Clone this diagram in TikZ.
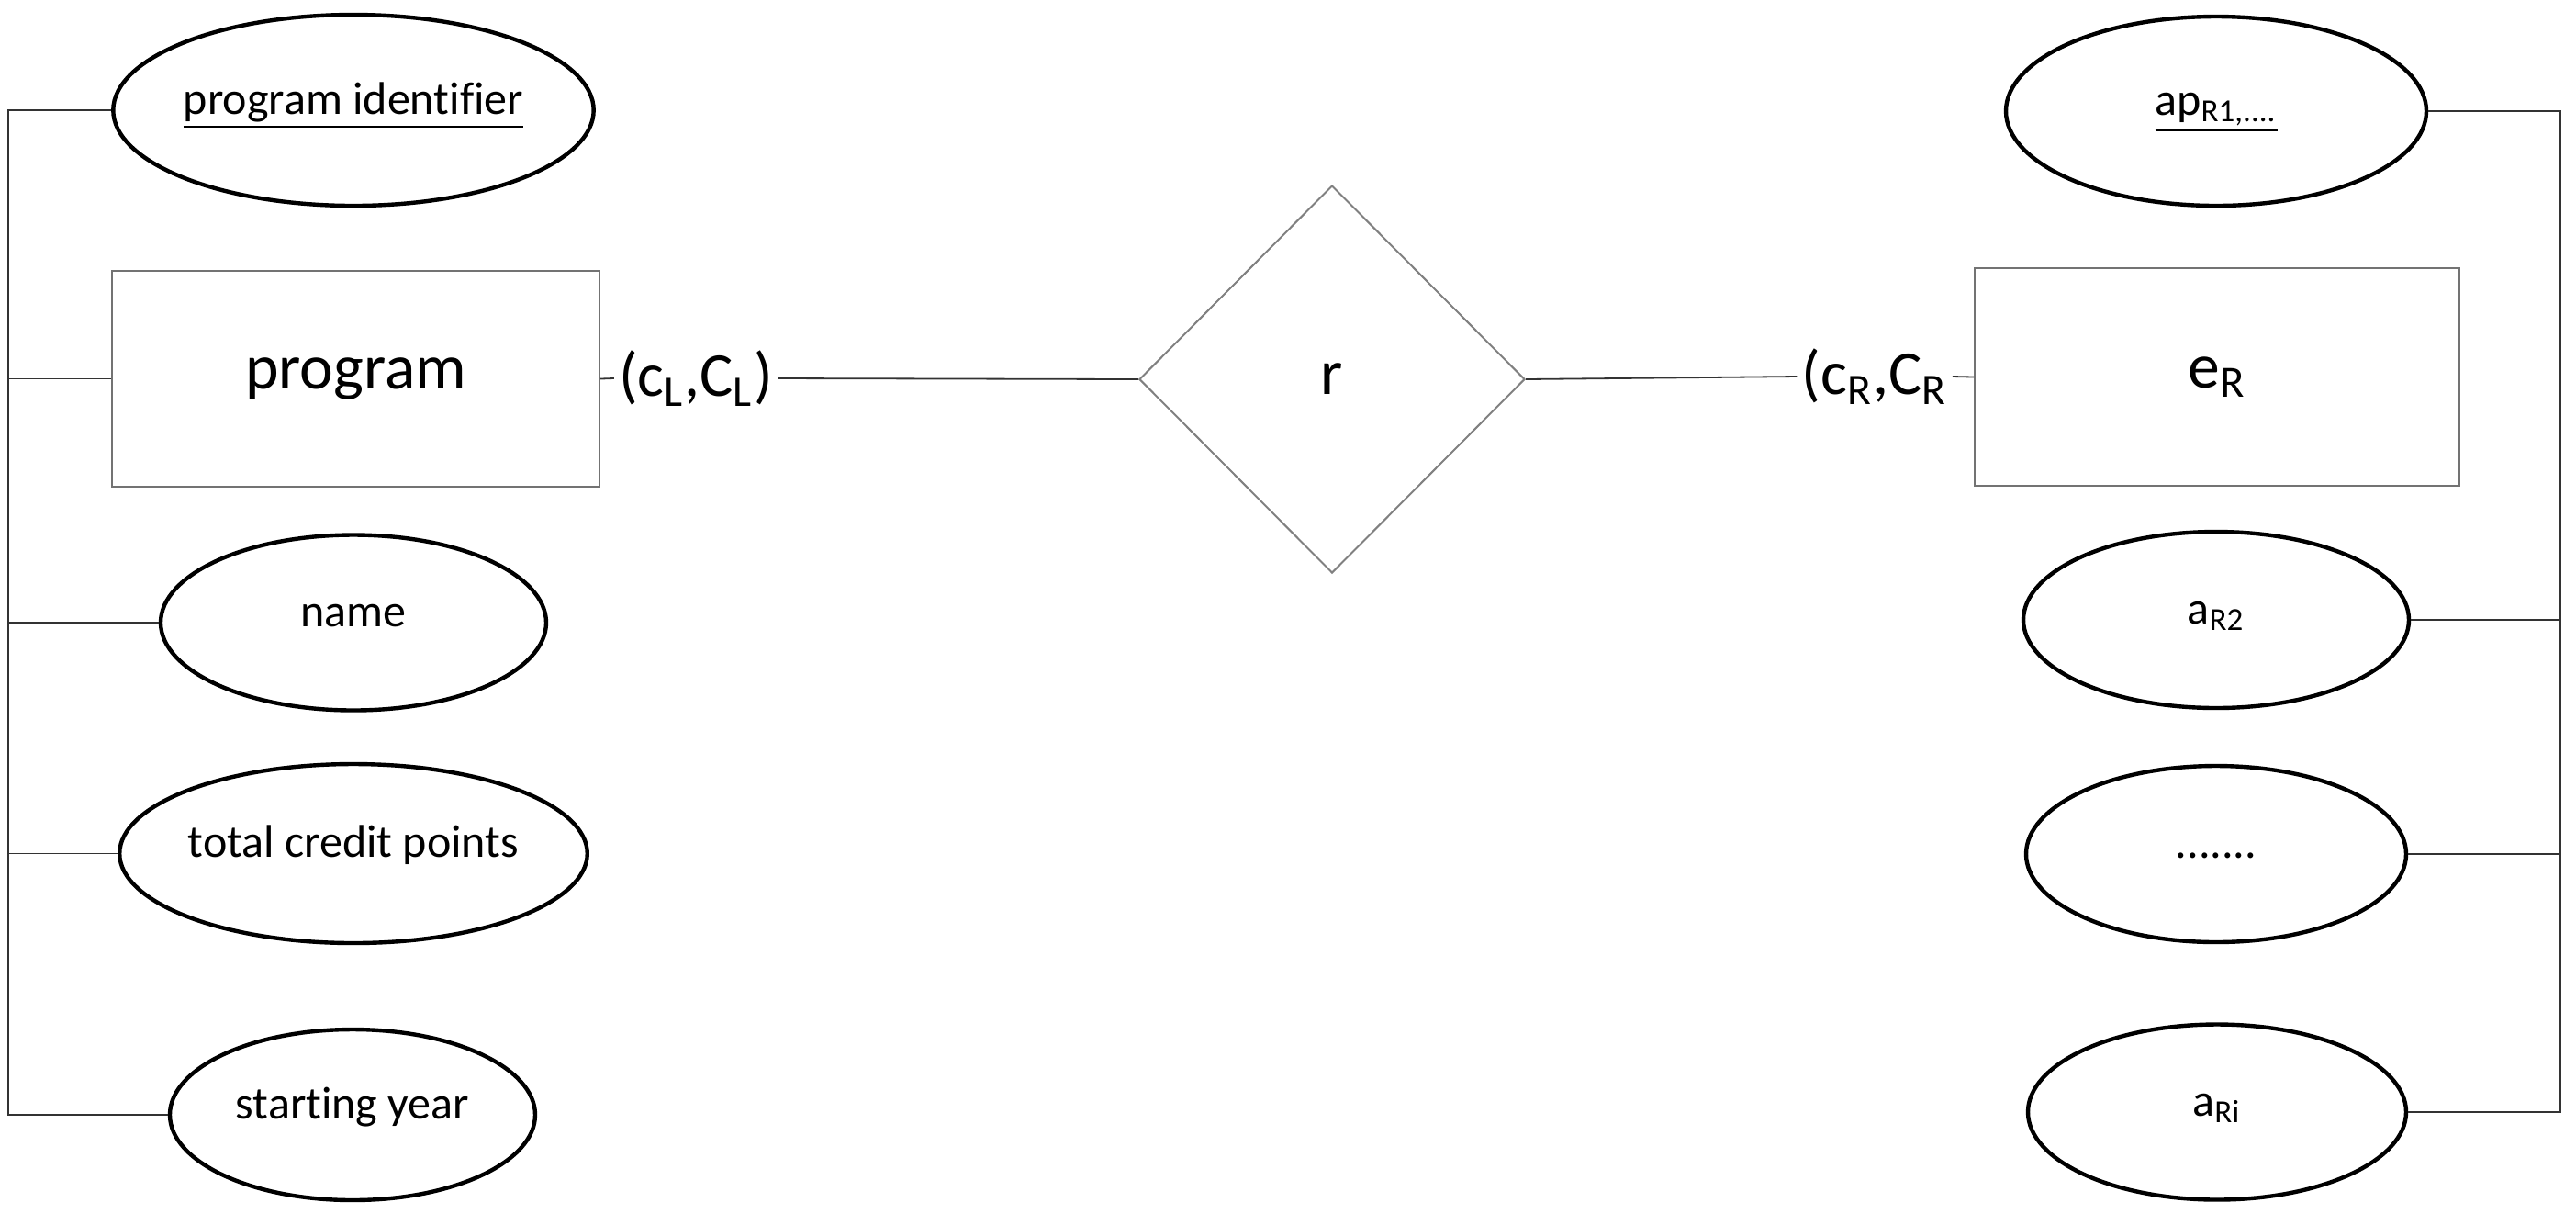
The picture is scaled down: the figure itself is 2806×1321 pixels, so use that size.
\documentclass[tikz,border=0pt]{standalone}
\usepackage{fontspec}
\setmainfont{Carlito}[Ligatures=NoCommon]
\usetikzlibrary{shapes.geometric}
\begin{document}
\begin{tikzpicture}[x=0.25pt,y=-0.25pt,
  attr/.style={ellipse, draw=black, line width=1.1pt, inner sep=0pt, text height=5pt, text depth=3pt, font=\fontsize{12.5}{15}\selectfont},
  ent/.style={rectangle, draw=black!55, line width=0.5pt, inner sep=0pt, font=\fontsize{17.4}{20}\selectfont},
  rel/.style={diamond, draw=black!50, line width=0.5pt, inner sep=0pt, shape aspect=1, font=\fontsize{17.4}{20}\selectfont},
  card/.style={inner sep=1.2pt, font=\fontsize{17}{20}\selectfont},
  conn/.style={draw=black!80, line width=0.45pt}]
\path[use as bounding box] (0,0) rectangle (2806,1321);
% left side
\node[attr, minimum width=117.5pt, minimum height=52pt] (pid) at (385,120) {\underline{program identifier}};
\node[ent, minimum width=132.75pt, minimum height=58.75pt] (prog) at (387.5,412.5) {program};
\node[attr, minimum width=105pt, minimum height=47.75pt] (name) at (385,678) {name};
\node[attr, minimum width=105.25pt, minimum height=48.75pt] (tcp) at (385,929.5) {total credit points};
\node[attr, minimum width=99.5pt, minimum height=46.5pt] (sy) at (384,1214) {starting year};
% relationship
\node[rel, minimum width=105pt, minimum height=105.5pt] (r) at (1451,413) {r};
\node[card] (cl) at (758,412) {(c\textsubscript{L},C\textsubscript{L})};
\node[card] (cr) at (2042,410) {(c\textsubscript{R},C\textsubscript{R}};
% right side
\node[attr, minimum width=114.5pt, minimum height=51.5pt] (apr) at (2414,121) {\underline{ap\textsubscript{R1,....}}};
\node[ent, minimum width=132pt, minimum height=59.25pt] (er) at (2415,410.5) {e\textsubscript{R}};
\node[attr, minimum width=105pt, minimum height=48pt] (ar2) at (2414,675) {a\textsubscript{R2}};
\node[attr, minimum width=103.5pt, minimum height=48pt] (dots) at (2414,930) {.......};
\node[attr, minimum width=103pt, minimum height=47.75pt] (ari) at (2415,1211) {a\textsubscript{Ri}};
% trunk coordinates
\coordinate (lx) at (9,0);
\coordinate (rx) at (2789,0);
% left connectors
\draw[conn] (pid.west) -- (pid.west -| lx) -- (sy.west -| lx) -- (sy.west);
\draw[conn] (prog.west) -- (prog.west -| lx);
\draw[conn] (name.west) -- (name.west -| lx);
\draw[conn] (tcp.west) -- (tcp.west -| lx);
% relationship connectors
\draw[conn] (prog.east) -- (cl.west);
\draw[conn] (cl.east) -- (r.west);
\draw[conn] (r.east) -- (cr.west);
\draw[conn] (cr.east) -- (er.west);
% right connectors
\draw[conn] (apr.east) -- (apr.east -| rx) -- (ari.east -| rx) -- (ari.east);
\draw[conn] (er.east) -- (er.east -| rx);
\draw[conn] (ar2.east) -- (ar2.east -| rx);
\draw[conn] (dots.east) -- (dots.east -| rx);
\end{tikzpicture}
\end{document}
